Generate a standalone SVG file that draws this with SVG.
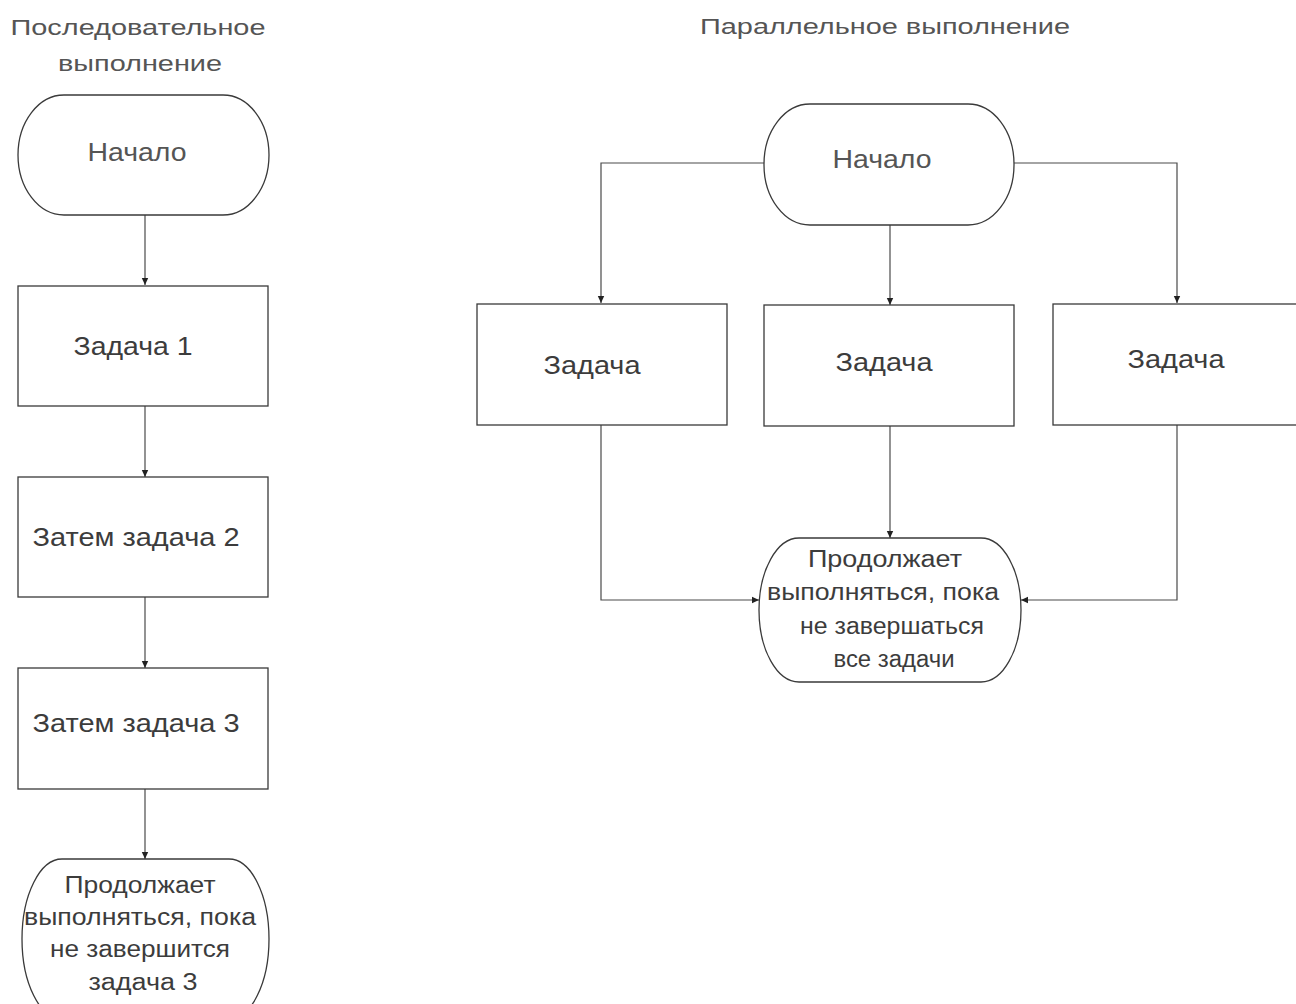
<svg xmlns="http://www.w3.org/2000/svg" width="1296" height="1004" viewBox="0 0 1296 1004">
  <style>
    .shape { fill: #ffffff; stroke: #3a3a3a; stroke-width: 1.3; }
    .link { fill: none; stroke: #4a4a4a; stroke-width: 1.2; }
    .title { font-family: "Liberation Sans", Arial, sans-serif; font-size: 22px; fill: #555555; text-anchor: middle; }
    .soft { font-family: "Liberation Sans", Arial, sans-serif; font-size: 25px; fill: #555555; text-anchor: middle; }
    .label { font-family: "Liberation Sans", Arial, sans-serif; font-size: 25px; fill: #3c3c3c; text-anchor: middle; }
    .small { font-family: "Liberation Sans", Arial, sans-serif; font-size: 23px; fill: #3c3c3c; text-anchor: middle; }
  </style>
  <defs>
    <marker id="arrow" markerWidth="8" markerHeight="8" refX="7" refY="4" orient="auto" markerUnits="userSpaceOnUse">
      <path d="M0,0.8 L7,4 L0,7.2 Z" fill="#222222"/>
    </marker>
  </defs>
  <rect width="1296" height="1004" fill="#ffffff"/>

  <!-- column headings -->
  <text class="title" x="138" y="35" textLength="255" lengthAdjust="spacingAndGlyphs">Последовательное</text>
  <text class="title" x="140" y="71" textLength="164" lengthAdjust="spacingAndGlyphs">выполнение</text>
  <text class="title" x="885" y="34" textLength="370" lengthAdjust="spacingAndGlyphs">Параллельное выполнение</text>

  <!-- connectors -->
  <g id="connectors">
    <line class="link" x1="145" y1="215" x2="145" y2="285" marker-end="url(#arrow)"/>
    <line class="link" x1="145" y1="406" x2="145" y2="477" marker-end="url(#arrow)"/>
    <line class="link" x1="145" y1="597" x2="145" y2="668" marker-end="url(#arrow)"/>
    <line class="link" x1="145" y1="789" x2="145" y2="859" marker-end="url(#arrow)"/>

    <path class="link" d="M764,163 H601 V303" marker-end="url(#arrow)"/>
    <line class="link" x1="890" y1="225" x2="890" y2="305" marker-end="url(#arrow)"/>
    <path class="link" d="M1014,163 H1177 V303" marker-end="url(#arrow)"/>

    <path class="link" d="M601,425 V600 H759" marker-end="url(#arrow)"/>
    <line class="link" x1="890" y1="426" x2="890" y2="538" marker-end="url(#arrow)"/>
    <path class="link" d="M1177,425 V600 H1021" marker-end="url(#arrow)"/>
  </g>

  <!-- sequential flow -->
  <g id="seq-start">
    <rect class="shape" x="18" y="95" width="251" height="120" rx="46" ry="60"/>
    <text class="soft" x="137" y="161" textLength="99" lengthAdjust="spacingAndGlyphs">Начало</text>
  </g>
  <g id="seq-task1">
    <rect class="shape" x="18" y="286" width="250" height="120"/>
    <text class="label" x="133" y="355" textLength="119" lengthAdjust="spacingAndGlyphs">Задача 1</text>
  </g>
  <g id="seq-task2">
    <rect class="shape" x="18" y="477" width="250" height="120"/>
    <text class="label" x="136" y="546" textLength="207" lengthAdjust="spacingAndGlyphs">Затем задача 2</text>
  </g>
  <g id="seq-task3">
    <rect class="shape" x="18" y="668" width="250" height="121"/>
    <text class="label" x="136" y="732" textLength="207" lengthAdjust="spacingAndGlyphs">Затем задача 3</text>
  </g>
  <g id="seq-end">
    <rect class="shape" x="22" y="859" width="247" height="160" rx="40" ry="80"/>
    <text class="small" x="140" y="893" textLength="151" lengthAdjust="spacingAndGlyphs">Продолжает</text>
    <text class="small" x="140" y="925" textLength="232" lengthAdjust="spacingAndGlyphs">выполняться, пока</text>
    <text class="small" x="140" y="957" textLength="180" lengthAdjust="spacingAndGlyphs">не завершится</text>
    <text class="small" x="143" y="990" textLength="109" lengthAdjust="spacingAndGlyphs">задача 3</text>
  </g>

  <!-- parallel flow -->
  <g id="par-start">
    <rect class="shape" x="764" y="104" width="250" height="121" rx="46" ry="60"/>
    <text class="soft" x="882" y="168" textLength="99" lengthAdjust="spacingAndGlyphs">Начало</text>
  </g>
  <g id="par-task-left">
    <rect class="shape" x="477" y="304" width="250" height="121"/>
    <text class="label" x="592" y="374" textLength="97" lengthAdjust="spacingAndGlyphs">Задача</text>
  </g>
  <g id="par-task-middle">
    <rect class="shape" x="764" y="305" width="250" height="121"/>
    <text class="label" x="884" y="371" textLength="97" lengthAdjust="spacingAndGlyphs">Задача</text>
  </g>
  <g id="par-task-right">
    <rect class="shape" x="1053" y="304" width="250" height="121"/>
    <text class="label" x="1176" y="368" textLength="97" lengthAdjust="spacingAndGlyphs">Задача</text>
  </g>
  <g id="par-end">
    <rect class="shape" x="759" y="538" width="262" height="144" rx="40" ry="72"/>
    <text class="small" x="885" y="567" textLength="154" lengthAdjust="spacingAndGlyphs">Продолжает</text>
    <text class="small" x="883" y="600" textLength="232" lengthAdjust="spacingAndGlyphs">выполняться, пока</text>
    <text class="small" x="892" y="634" textLength="184" lengthAdjust="spacingAndGlyphs">не завершаться</text>
    <text class="small" x="894" y="667" textLength="121" lengthAdjust="spacingAndGlyphs">все задачи</text>
  </g>
</svg>
